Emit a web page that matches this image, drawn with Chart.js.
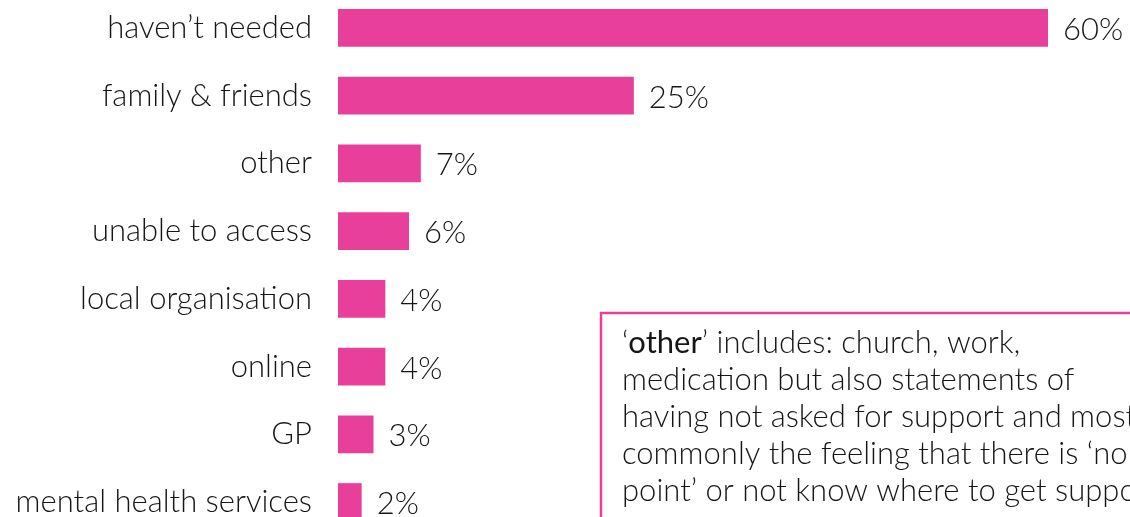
<!DOCTYPE html>
<html>
<head>
<meta charset="utf-8">
<script src="https://cdn.jsdelivr.net/npm/chart.js@4"></script>
<style>
  html, body { margin: 0; padding: 0; background: #fff; overflow: hidden; }
  #wrap { position: absolute; left: 0; top: -6px; width: 1130px; height: 542px; }
</style>
</head>
<body>
<div id="wrap"><canvas id="supportChart"></canvas></div>
<script>
const categories = ["haven\u2019t needed", "family & friends", "other", "unable to access",
  "local organisation", "online", "GP", "mental health services"];
const shares = [60, 25, 7, 6, 4, 4, 3, 2];
const noteLines = [
  [["\u2018", false], ["other", true], ["\u2019 includes: church, work,", false]],
  [["medication but also statements of", false]],
  [["having not asked for support and most", false]],
  [["commonly the feeling that there is \u2018no", false]],
  [["point\u2019 or not know where to get support", false]]
];

const pink = "#e8409a";
const ink = "#161616";
const fontFamily = "Lato, 'Open Sans', sans-serif";
const fontSize = 31;

// percentage written just past the end of each bar
const valueLabels = {
  id: "valueLabels",
  afterDatasetsDraw(chart) {
    const { ctx } = chart;
    const meta = chart.getDatasetMeta(0);
    ctx.save();
    ctx.font = `300 ${fontSize}px ${fontFamily}`;
    ctx.fillStyle = ink;
    ctx.textBaseline = "middle";
    meta.data.forEach((bar, i) => {
      ctx.fillText(shares[i] + "%", bar.x + 15, bar.y + 2);
    });
    ctx.restore();
  }
};

// boxed note about the 'other' answers
const noteBox = {
  id: "noteBox",
  afterDraw(chart) {
    const { ctx } = chart;
    ctx.save();
    ctx.strokeStyle = pink;
    ctx.lineWidth = 2.5;
    ctx.strokeRect(601, 319, 600, 300);
    ctx.fillStyle = ink;
    ctx.textBaseline = "alphabetic";
    noteLines.forEach((parts, i) => {
      let x = 622;
      const y = 359 + i * 37;
      parts.forEach(([txt, bold]) => {
        ctx.font = `${bold ? 400 : 300} ${fontSize}px ${fontFamily}`;
        ctx.fillText(txt, x, y);
        x += ctx.measureText(txt).width;
      });
    });
    ctx.restore();
  }
};

new Chart(document.getElementById("supportChart"), {
  type: "bar",
  data: {
    labels: categories,
    datasets: [{
      data: shares,
      backgroundColor: pink,
      borderWidth: 0,
      barPercentage: 0.56,
      categoryPercentage: 1
    }]
  },
  options: {
    indexAxis: "y",
    responsive: true,
    maintainAspectRatio: false,
    animation: false,
    layout: { padding: { left: 0, right: 11, top: 0, bottom: 0 } },
    plugins: {
      legend: { display: false },
      tooltip: { enabled: false }
    },
    scales: {
      x: { display: false, min: 0, max: 66 },
      y: {
        grid: { display: false, drawTicks: false },
        border: { display: false },
        ticks: {
          padding: 26,
          color: ink,
          font: { family: fontFamily, size: fontSize, weight: 300 }
        },
        afterFit(scale) {
          scale.width = 338;
          scale.paddingTop = 0;
          scale.paddingBottom = 0;
        }
      }
    }
  },
  plugins: [valueLabels, noteBox]
});
</script>
</body>
</html>
